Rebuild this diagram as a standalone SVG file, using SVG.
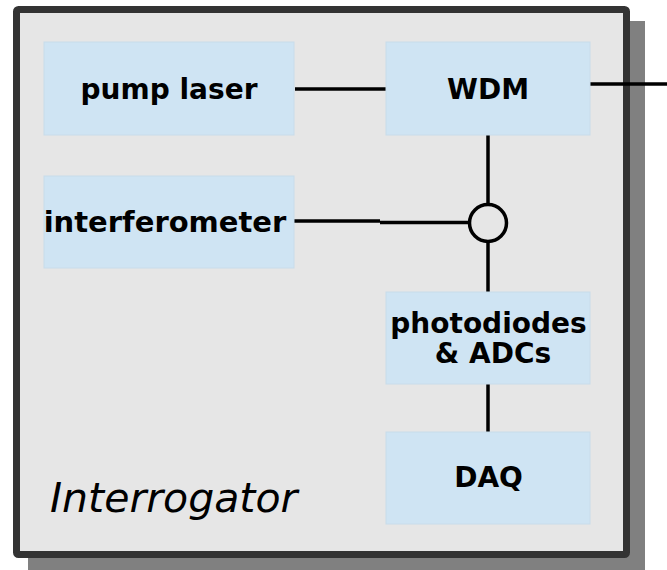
<svg xmlns="http://www.w3.org/2000/svg" width="667" height="570" viewBox="0 0 667 570">
<style>
.node rect{fill:#cfe4f3;stroke:#c8dcea;stroke-width:1}
.lbl{font-family:"DejaVu Sans",sans-serif;font-weight:bold;font-size:28px;fill:#000;text-anchor:middle}
.conn line,.conn path{stroke:#000;stroke-width:3.5;fill:none}
</style>
<g id="frame">
<rect x="28" y="21" width="617" height="552" fill="#808080"/>
<rect x="16.5" y="9.5" width="610" height="545" rx="2" fill="#e6e6e6" stroke="#333333" stroke-width="7"/>
<text x="50" y="512" font-family="DejaVu Sans,sans-serif" font-style="italic" font-size="41" fill="#000">Interrogator</text>
</g>
<g class="conn" id="connectors">
<line x1="295" y1="89" x2="386" y2="89"/>
<line x1="590" y1="84" x2="667" y2="84"/>
<line x1="488" y1="135" x2="488" y2="204"/>
<line x1="288" y1="221" x2="380" y2="221"/>
<line x1="380" y1="222.5" x2="470" y2="222.5"/>
<circle cx="488" cy="223" r="18.5" fill="none" stroke="#000" stroke-width="3.5"/>
<line x1="488" y1="241.5" x2="488" y2="292"/>
<line x1="488" y1="384" x2="488" y2="432"/>
</g>
<g class="node" id="pump-laser">
<rect x="44" y="42" width="250" height="93"/>
<text class="lbl" x="169" y="99">pump laser</text>
</g>
<g class="node" id="wdm">
<rect x="386" y="42" width="204" height="93"/>
<text class="lbl" x="488" y="99">WDM</text>
</g>
<g class="node" id="interferometer">
<rect x="44" y="176" width="250" height="92"/>
<text class="lbl" x="165" y="232" style="font-size:29px">interferometer</text>
</g>
<g class="node" id="photodiodes">
<rect x="386" y="292" width="204" height="92"/>
<text class="lbl" x="488.5" y="333">photodiodes</text>
<text class="lbl" x="493" y="363">&amp; ADCs</text>
</g>
<g class="node" id="daq">
<rect x="386" y="432" width="204" height="92"/>
<text class="lbl" x="488.5" y="487">DAQ</text>
</g>
</svg>
